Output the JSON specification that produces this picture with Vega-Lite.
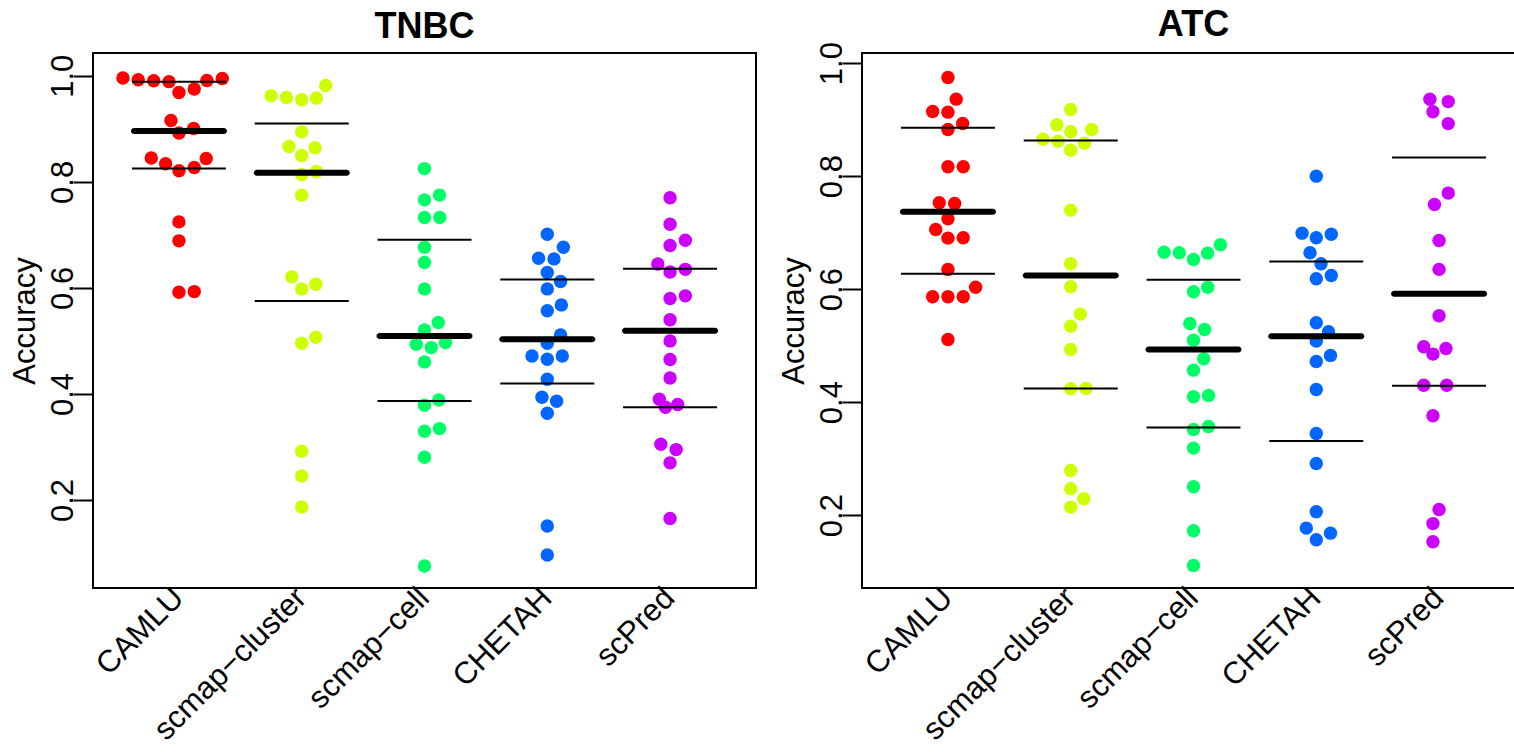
{
  "$schema": "https://vega.github.io/schema/vega-lite/v6.json",
  "autosize": {"type": "none"},
  "padding": {"left": 93, "top": 53, "right": 1421, "bottom": 699},
  "background": "white",
  "bounds": "flush",
  "spacing": 106,
  "datasets": {
    "tnbc": [
      {"method": "CAMLU", "accuracy": 0.9957, "dx": -3.66},
      {"method": "CAMLU", "accuracy": 0.9925, "dx": -2.66},
      {"method": "CAMLU", "accuracy": 0.9906, "dx": -1.65},
      {"method": "CAMLU", "accuracy": 0.989, "dx": -0.65},
      {"method": "CAMLU", "accuracy": 0.9685, "dx": 0},
      {"method": "CAMLU", "accuracy": 0.975, "dx": 1.0},
      {"method": "CAMLU", "accuracy": 0.991, "dx": 1.83},
      {"method": "CAMLU", "accuracy": 0.995, "dx": 2.83},
      {"method": "CAMLU", "accuracy": 0.9157, "dx": -0.52},
      {"method": "CAMLU", "accuracy": 0.892, "dx": 0},
      {"method": "CAMLU", "accuracy": 0.9006, "dx": 0.96},
      {"method": "CAMLU", "accuracy": 0.845, "dx": -1.81},
      {"method": "CAMLU", "accuracy": 0.834, "dx": -0.87},
      {"method": "CAMLU", "accuracy": 0.8208, "dx": 0},
      {"method": "CAMLU", "accuracy": 0.827, "dx": 1.0},
      {"method": "CAMLU", "accuracy": 0.844, "dx": 1.78},
      {"method": "CAMLU", "accuracy": 0.7245, "dx": 0},
      {"method": "CAMLU", "accuracy": 0.6887, "dx": 0},
      {"method": "CAMLU", "accuracy": 0.5919, "dx": 0},
      {"method": "CAMLU", "accuracy": 0.593, "dx": 1.0},
      {"method": "scmap-cluster", "accuracy": 0.9623, "dx": -2.0},
      {"method": "scmap-cluster", "accuracy": 0.959, "dx": -1.0},
      {"method": "scmap-cluster", "accuracy": 0.9547, "dx": 0},
      {"method": "scmap-cluster", "accuracy": 0.958, "dx": 0.96},
      {"method": "scmap-cluster", "accuracy": 0.9818, "dx": 1.57},
      {"method": "scmap-cluster", "accuracy": 0.8943, "dx": 0},
      {"method": "scmap-cluster", "accuracy": 0.8667, "dx": -0.83},
      {"method": "scmap-cluster", "accuracy": 0.8642, "dx": 0.87},
      {"method": "scmap-cluster", "accuracy": 0.8497, "dx": 0},
      {"method": "scmap-cluster", "accuracy": 0.8138, "dx": 0},
      {"method": "scmap-cluster", "accuracy": 0.8195, "dx": 0.96},
      {"method": "scmap-cluster", "accuracy": 0.7749, "dx": 0},
      {"method": "scmap-cluster", "accuracy": 0.6208, "dx": -0.65},
      {"method": "scmap-cluster", "accuracy": 0.5981, "dx": 0},
      {"method": "scmap-cluster", "accuracy": 0.607, "dx": 0.92},
      {"method": "scmap-cluster", "accuracy": 0.4956, "dx": 0},
      {"method": "scmap-cluster", "accuracy": 0.507, "dx": 0.92},
      {"method": "scmap-cluster", "accuracy": 0.2919, "dx": 0},
      {"method": "scmap-cluster", "accuracy": 0.2453, "dx": 0},
      {"method": "scmap-cluster", "accuracy": 0.1868, "dx": 0},
      {"method": "scmap-cell", "accuracy": 0.825, "dx": 0},
      {"method": "scmap-cell", "accuracy": 0.766, "dx": 0},
      {"method": "scmap-cell", "accuracy": 0.775, "dx": 0.98},
      {"method": "scmap-cell", "accuracy": 0.7327, "dx": 0},
      {"method": "scmap-cell", "accuracy": 0.7327, "dx": 1.0},
      {"method": "scmap-cell", "accuracy": 0.6767, "dx": 0},
      {"method": "scmap-cell", "accuracy": 0.6478, "dx": 0},
      {"method": "scmap-cell", "accuracy": 0.5981, "dx": 0},
      {"method": "scmap-cell", "accuracy": 0.5346, "dx": 0.9},
      {"method": "scmap-cell", "accuracy": 0.5208, "dx": 0},
      {"method": "scmap-cell", "accuracy": 0.4938, "dx": -0.54},
      {"method": "scmap-cell", "accuracy": 0.4874, "dx": 0.44},
      {"method": "scmap-cell", "accuracy": 0.4968, "dx": 1.37},
      {"method": "scmap-cell", "accuracy": 0.4604, "dx": 0},
      {"method": "scmap-cell", "accuracy": 0.3787, "dx": 0},
      {"method": "scmap-cell", "accuracy": 0.3887, "dx": 0.93},
      {"method": "scmap-cell", "accuracy": 0.3296, "dx": 0},
      {"method": "scmap-cell", "accuracy": 0.3346, "dx": 0.98},
      {"method": "scmap-cell", "accuracy": 0.2805, "dx": 0},
      {"method": "scmap-cell", "accuracy": 0.0755, "dx": 0},
      {"method": "CHETAH", "accuracy": 0.7013, "dx": 0},
      {"method": "CHETAH", "accuracy": 0.6767, "dx": 1.05},
      {"method": "CHETAH", "accuracy": 0.656, "dx": -0.57},
      {"method": "CHETAH", "accuracy": 0.6547, "dx": 0.44},
      {"method": "CHETAH", "accuracy": 0.6289, "dx": 0},
      {"method": "CHETAH", "accuracy": 0.612, "dx": 0.87},
      {"method": "CHETAH", "accuracy": 0.5981, "dx": 0},
      {"method": "CHETAH", "accuracy": 0.557, "dx": 0},
      {"method": "CHETAH", "accuracy": 0.5679, "dx": 0.92},
      {"method": "CHETAH", "accuracy": 0.5113, "dx": 0.87},
      {"method": "CHETAH", "accuracy": 0.4956, "dx": 0},
      {"method": "CHETAH", "accuracy": 0.4717, "dx": -1.0},
      {"method": "CHETAH", "accuracy": 0.4654, "dx": 0},
      {"method": "CHETAH", "accuracy": 0.4717, "dx": 0.98},
      {"method": "CHETAH", "accuracy": 0.4277, "dx": 0},
      {"method": "CHETAH", "accuracy": 0.3937, "dx": -0.35},
      {"method": "CHETAH", "accuracy": 0.3862, "dx": 0.61},
      {"method": "CHETAH", "accuracy": 0.3635, "dx": 0},
      {"method": "CHETAH", "accuracy": 0.1509, "dx": 0},
      {"method": "CHETAH", "accuracy": 0.0962, "dx": 0},
      {"method": "scPred", "accuracy": 0.77, "dx": 0},
      {"method": "scPred", "accuracy": 0.72, "dx": 0},
      {"method": "scPred", "accuracy": 0.69, "dx": 1.0},
      {"method": "scPred", "accuracy": 0.68, "dx": 0},
      {"method": "scPred", "accuracy": 0.645, "dx": -0.8},
      {"method": "scPred", "accuracy": 0.635, "dx": 1.0},
      {"method": "scPred", "accuracy": 0.63, "dx": 0},
      {"method": "scPred", "accuracy": 0.585, "dx": 1.0},
      {"method": "scPred", "accuracy": 0.58, "dx": 0},
      {"method": "scPred", "accuracy": 0.54, "dx": 0},
      {"method": "scPred", "accuracy": 0.5, "dx": 0},
      {"method": "scPred", "accuracy": 0.465, "dx": 0},
      {"method": "scPred", "accuracy": 0.43, "dx": 0},
      {"method": "scPred", "accuracy": 0.39, "dx": -0.7},
      {"method": "scPred", "accuracy": 0.38, "dx": 0.5},
      {"method": "scPred", "accuracy": 0.375, "dx": -0.3},
      {"method": "scPred", "accuracy": 0.305, "dx": -0.6},
      {"method": "scPred", "accuracy": 0.295, "dx": 0.4},
      {"method": "scPred", "accuracy": 0.27, "dx": 0},
      {"method": "scPred", "accuracy": 0.165, "dx": 0}
    ],
    "tnbc_stats": [
      {"method": "CAMLU", "stat": "q3", "value": 0.989},
      {"method": "CAMLU", "stat": "median", "value": 0.896},
      {"method": "CAMLU", "stat": "q1", "value": 0.825},
      {"method": "scmap-cluster", "stat": "q3", "value": 0.910},
      {"method": "scmap-cluster", "stat": "median", "value": 0.817},
      {"method": "scmap-cluster", "stat": "q1", "value": 0.5755},
      {"method": "scmap-cell", "stat": "q3", "value": 0.6906},
      {"method": "scmap-cell", "stat": "median", "value": 0.5094},
      {"method": "scmap-cell", "stat": "q1", "value": 0.3868},
      {"method": "CHETAH", "stat": "q3", "value": 0.6157},
      {"method": "CHETAH", "stat": "median", "value": 0.5032},
      {"method": "CHETAH", "stat": "q1", "value": 0.4195},
      {"method": "scPred", "stat": "q3", "value": 0.636},
      {"method": "scPred", "stat": "median", "value": 0.519},
      {"method": "scPred", "stat": "q1", "value": 0.375}
    ],
    "atc": [
      {"method": "CAMLU", "accuracy": 0.9747, "dx": 0},
      {"method": "CAMLU", "accuracy": 0.9363, "dx": 0.54},
      {"method": "CAMLU", "accuracy": 0.9145, "dx": -1.0},
      {"method": "CAMLU", "accuracy": 0.9133, "dx": 0},
      {"method": "CAMLU", "accuracy": 0.8933, "dx": 0.96},
      {"method": "CAMLU", "accuracy": 0.8827, "dx": 0},
      {"method": "CAMLU", "accuracy": 0.8166, "dx": 0},
      {"method": "CAMLU", "accuracy": 0.8166, "dx": 1.0},
      {"method": "CAMLU", "accuracy": 0.7529, "dx": -0.57},
      {"method": "CAMLU", "accuracy": 0.7517, "dx": 0.44},
      {"method": "CAMLU", "accuracy": 0.7246, "dx": 0},
      {"method": "CAMLU", "accuracy": 0.7057, "dx": -0.8},
      {"method": "CAMLU", "accuracy": 0.6903, "dx": 0},
      {"method": "CAMLU", "accuracy": 0.691, "dx": 1.0},
      {"method": "CAMLU", "accuracy": 0.6349, "dx": 0},
      {"method": "CAMLU", "accuracy": 0.6035, "dx": 1.81},
      {"method": "CAMLU", "accuracy": 0.5865, "dx": -1.0},
      {"method": "CAMLU", "accuracy": 0.5865, "dx": 0},
      {"method": "CAMLU", "accuracy": 0.5865, "dx": 1.0},
      {"method": "CAMLU", "accuracy": 0.511, "dx": 0},
      {"method": "scmap-cluster", "accuracy": 0.918, "dx": 0},
      {"method": "scmap-cluster", "accuracy": 0.891, "dx": -0.9},
      {"method": "scmap-cluster", "accuracy": 0.8786, "dx": 0},
      {"method": "scmap-cluster", "accuracy": 0.8827, "dx": 1.37},
      {"method": "scmap-cluster", "accuracy": 0.8655, "dx": -1.81},
      {"method": "scmap-cluster", "accuracy": 0.862, "dx": -0.83},
      {"method": "scmap-cluster", "accuracy": 0.8584, "dx": 0.9},
      {"method": "scmap-cluster", "accuracy": 0.846, "dx": 0},
      {"method": "scmap-cluster", "accuracy": 0.7398, "dx": 0},
      {"method": "scmap-cluster", "accuracy": 0.645, "dx": 0},
      {"method": "scmap-cluster", "accuracy": 0.6042, "dx": 0},
      {"method": "scmap-cluster", "accuracy": 0.5558, "dx": 0.63},
      {"method": "scmap-cluster", "accuracy": 0.5345, "dx": 0},
      {"method": "scmap-cluster", "accuracy": 0.4933, "dx": 0},
      {"method": "scmap-cluster", "accuracy": 0.4237, "dx": 0},
      {"method": "scmap-cluster", "accuracy": 0.4243, "dx": 1.0},
      {"method": "scmap-cluster", "accuracy": 0.2791, "dx": 0},
      {"method": "scmap-cluster", "accuracy": 0.2467, "dx": 0},
      {"method": "scmap-cluster", "accuracy": 0.229, "dx": 0.85},
      {"method": "scmap-cluster", "accuracy": 0.2142, "dx": 0},
      {"method": "scmap-cell", "accuracy": 0.6655, "dx": -1.92},
      {"method": "scmap-cell", "accuracy": 0.6644, "dx": -0.93},
      {"method": "scmap-cell", "accuracy": 0.6526, "dx": 0},
      {"method": "scmap-cell", "accuracy": 0.6637, "dx": 0.92},
      {"method": "scmap-cell", "accuracy": 0.6786, "dx": 1.76},
      {"method": "scmap-cell", "accuracy": 0.5954, "dx": 0},
      {"method": "scmap-cell", "accuracy": 0.6035, "dx": 0.93},
      {"method": "scmap-cell", "accuracy": 0.5393, "dx": -0.24},
      {"method": "scmap-cell", "accuracy": 0.5287, "dx": 0.72},
      {"method": "scmap-cell", "accuracy": 0.5097, "dx": 0},
      {"method": "scmap-cell", "accuracy": 0.4768, "dx": 0.67},
      {"method": "scmap-cell", "accuracy": 0.4566, "dx": 0},
      {"method": "scmap-cell", "accuracy": 0.4096, "dx": 0},
      {"method": "scmap-cell", "accuracy": 0.4119, "dx": 0.98},
      {"method": "scmap-cell", "accuracy": 0.3517, "dx": 0},
      {"method": "scmap-cell", "accuracy": 0.357, "dx": 0.98},
      {"method": "scmap-cell", "accuracy": 0.3186, "dx": 0},
      {"method": "scmap-cell", "accuracy": 0.2503, "dx": 0},
      {"method": "scmap-cell", "accuracy": 0.1724, "dx": 0},
      {"method": "scmap-cell", "accuracy": 0.111, "dx": 0},
      {"method": "CHETAH", "accuracy": 0.8, "dx": 0},
      {"method": "CHETAH", "accuracy": 0.6991, "dx": -0.93},
      {"method": "CHETAH", "accuracy": 0.691, "dx": 0},
      {"method": "CHETAH", "accuracy": 0.6973, "dx": 0.98},
      {"method": "CHETAH", "accuracy": 0.6644, "dx": -0.41},
      {"method": "CHETAH", "accuracy": 0.645, "dx": 0.31},
      {"method": "CHETAH", "accuracy": 0.6184, "dx": 0},
      {"method": "CHETAH", "accuracy": 0.6242, "dx": 0.98},
      {"method": "CHETAH", "accuracy": 0.5405, "dx": 0},
      {"method": "CHETAH", "accuracy": 0.5246, "dx": 0.8},
      {"method": "CHETAH", "accuracy": 0.508, "dx": 0},
      {"method": "CHETAH", "accuracy": 0.472, "dx": 0},
      {"method": "CHETAH", "accuracy": 0.4827, "dx": 0.93},
      {"method": "CHETAH", "accuracy": 0.4225, "dx": 0},
      {"method": "CHETAH", "accuracy": 0.3446, "dx": 0},
      {"method": "CHETAH", "accuracy": 0.2915, "dx": 0},
      {"method": "CHETAH", "accuracy": 0.206, "dx": 0},
      {"method": "CHETAH", "accuracy": 0.177, "dx": -0.65},
      {"method": "CHETAH", "accuracy": 0.1681, "dx": 0.93},
      {"method": "CHETAH", "accuracy": 0.1564, "dx": 0},
      {"method": "scPred", "accuracy": 0.936, "dx": -0.6},
      {"method": "scPred", "accuracy": 0.932, "dx": 0.6},
      {"method": "scPred", "accuracy": 0.914, "dx": -0.4},
      {"method": "scPred", "accuracy": 0.893, "dx": 0.6},
      {"method": "scPred", "accuracy": 0.77, "dx": 0.6},
      {"method": "scPred", "accuracy": 0.75, "dx": -0.3},
      {"method": "scPred", "accuracy": 0.686, "dx": 0},
      {"method": "scPred", "accuracy": 0.635, "dx": 0},
      {"method": "scPred", "accuracy": 0.553, "dx": 0},
      {"method": "scPred", "accuracy": 0.498, "dx": -1.0},
      {"method": "scPred", "accuracy": 0.495, "dx": 0.45},
      {"method": "scPred", "accuracy": 0.485, "dx": -0.4},
      {"method": "scPred", "accuracy": 0.43, "dx": -1.0},
      {"method": "scPred", "accuracy": 0.43, "dx": 0.5},
      {"method": "scPred", "accuracy": 0.376, "dx": -0.4},
      {"method": "scPred", "accuracy": 0.21, "dx": 0},
      {"method": "scPred", "accuracy": 0.185, "dx": -0.4},
      {"method": "scPred", "accuracy": 0.153, "dx": -0.4}
    ],
    "atc_stats": [
      {"method": "CAMLU", "stat": "q3", "value": 0.8857},
      {"method": "CAMLU", "stat": "median", "value": 0.737},
      {"method": "CAMLU", "stat": "q1", "value": 0.6272},
      {"method": "scmap-cluster", "stat": "q3", "value": 0.8632},
      {"method": "scmap-cluster", "stat": "median", "value": 0.6243},
      {"method": "scmap-cluster", "stat": "q1", "value": 0.4243},
      {"method": "scmap-cell", "stat": "q3", "value": 0.6166},
      {"method": "scmap-cell", "stat": "median", "value": 0.4933},
      {"method": "scmap-cell", "stat": "q1", "value": 0.3552},
      {"method": "CHETAH", "stat": "q3", "value": 0.649},
      {"method": "CHETAH", "stat": "median", "value": 0.5168},
      {"method": "CHETAH", "stat": "q1", "value": 0.331},
      {"method": "scPred", "stat": "q3", "value": 0.833},
      {"method": "scPred", "stat": "median", "value": 0.592},
      {"method": "scPred", "stat": "q1", "value": 0.429}
    ]
  },
  "hconcat": [
    {
      "width": 663,
      "height": 535,
      "title": {"text": "TNBC", "offset": 7},
      "layer": [
        {
          "data": {"name": "tnbc"},
          "mark": {"type": "circle", "size": 180, "opacity": 1},
          "encoding": {
            "x": {"field": "method", "type": "nominal",
                  "scale": {"domain": ["CAMLU", "scmap-cluster", "scmap-cell", "CHETAH", "scPred"], "paddingInner": 0, "paddingOuter": 0.2},
                  "axis": {"title": null, "labelAngle": -45, "labelAlign": "right", "labelBaseline": "middle", "ticks": false, "tickSize": 0, "labelPadding": 5, "labelOverlap": false, "labelFontSize": 31, "labelLimit": 0, "labelExpr": "replace(datum.label, '-', '\u2212')"}},
            "xOffset": {"field": "dx", "type": "quantitative", "scale": {"domain": [-1, 1], "range": [46.09, 76.69]}},
            "y": {"field": "accuracy", "type": "quantitative",
                  "scale": {"domain": [0.034, 1.043], "nice": false, "zero": false},
                  "axis": {"title": "Accuracy", "values": [0.2, 0.4, 0.6, 0.8, 1.0], "format": ".1f", "labelAngle": -90, "labelAlign": "center", "labelBaseline": "alphabetic", "tickSize": 20, "labelPadding": 1, "labelOverlap": false, "titleX": -59, "titleY": 267.5, "titleAlign": "center", "titleBaseline": "alphabetic", "titleAngle": -90}},
            "color": {"field": "method", "type": "nominal",
                      "scale": {"domain": ["CAMLU", "scmap-cluster", "scmap-cell", "CHETAH", "scPred"], "range": ["#FF0000", "#CCFF00", "#00FF66", "#0066FF", "#CC00FF"]},
                      "legend": null}
          }
        },
        {
          "data": {"name": "tnbc_stats"},
          "transform": [{"filter": "datum.stat != 'median'"}],
          "mark": {"type": "tick", "size": 94, "thickness": 2, "color": "black", "opacity": 1},
          "encoding": {
            "x": {"field": "method", "type": "nominal"},
            "y": {"field": "value", "type": "quantitative"}
          }
        },
        {
          "data": {"name": "tnbc_stats"},
          "transform": [{"filter": "datum.stat == 'median'"}],
          "mark": {"type": "tick", "size": 96, "thickness": 6, "cornerRadius": 3, "color": "black", "opacity": 1},
          "encoding": {
            "x": {"field": "method", "type": "nominal"},
            "y": {"field": "value", "type": "quantitative"}
          }
        }
      ]
    },
    {
      "width": 663,
      "height": 535,
      "title": {"text": "ATC", "offset": -2},
      "layer": [
        {
          "data": {"name": "atc"},
          "mark": {"type": "circle", "size": 180, "opacity": 1},
          "encoding": {
            "x": {"field": "method", "type": "nominal",
                  "scale": {"domain": ["CAMLU", "scmap-cluster", "scmap-cell", "CHETAH", "scPred"], "paddingInner": 0, "paddingOuter": 0.2},
                  "axis": {"title": null, "labelAngle": -45, "labelAlign": "right", "labelBaseline": "middle", "ticks": false, "tickSize": 0, "labelPadding": 5, "labelOverlap": false, "labelFontSize": 31, "labelLimit": 0, "labelExpr": "replace(datum.label, '-', '\u2212')"}},
            "xOffset": {"field": "dx", "type": "quantitative", "scale": {"domain": [-1, 1], "range": [46.09, 76.69]}},
            "y": {"field": "accuracy", "type": "quantitative",
                  "scale": {"domain": [0.071, 1.018], "nice": false, "zero": false},
                  "axis": {"title": "Accuracy", "values": [0.2, 0.4, 0.6, 0.8, 1.0], "format": ".1f", "labelAngle": -90, "labelAlign": "center", "labelBaseline": "alphabetic", "tickSize": 20, "labelPadding": 1, "labelOverlap": false, "titleX": -59, "titleY": 267.5, "titleAlign": "center", "titleBaseline": "alphabetic", "titleAngle": -90}},
            "color": {"field": "method", "type": "nominal",
                      "scale": {"domain": ["CAMLU", "scmap-cluster", "scmap-cell", "CHETAH", "scPred"], "range": ["#FF0000", "#CCFF00", "#00FF66", "#0066FF", "#CC00FF"]},
                      "legend": null}
          }
        },
        {
          "data": {"name": "atc_stats"},
          "transform": [{"filter": "datum.stat != 'median'"}],
          "mark": {"type": "tick", "size": 94, "thickness": 2, "color": "black", "opacity": 1},
          "encoding": {
            "x": {"field": "method", "type": "nominal"},
            "y": {"field": "value", "type": "quantitative"}
          }
        },
        {
          "data": {"name": "atc_stats"},
          "transform": [{"filter": "datum.stat == 'median'"}],
          "mark": {"type": "tick", "size": 96, "thickness": 6, "cornerRadius": 3, "color": "black", "opacity": 1},
          "encoding": {
            "x": {"field": "method", "type": "nominal"},
            "y": {"field": "value", "type": "quantitative"}
          }
        }
      ]
    }
  ],
  "config": {
    "font": "Liberation Sans",
    "view": {"stroke": "black", "strokeWidth": 2},
    "axis": {"grid": false, "domain": false, "labelFont": "Liberation Sans", "titleFont": "Liberation Sans", "labelColor": "black", "titleColor": "black", "tickColor": "black", "tickWidth": 2, "labelFontSize": 31, "titleFontSize": 31, "titleFontWeight": "normal"},
    "title": {"font": "Liberation Sans", "fontSize": 36, "fontWeight": "bold", "color": "black", "baseline": "bottom", "anchor": "middle", "frame": "group"}
  }
}
